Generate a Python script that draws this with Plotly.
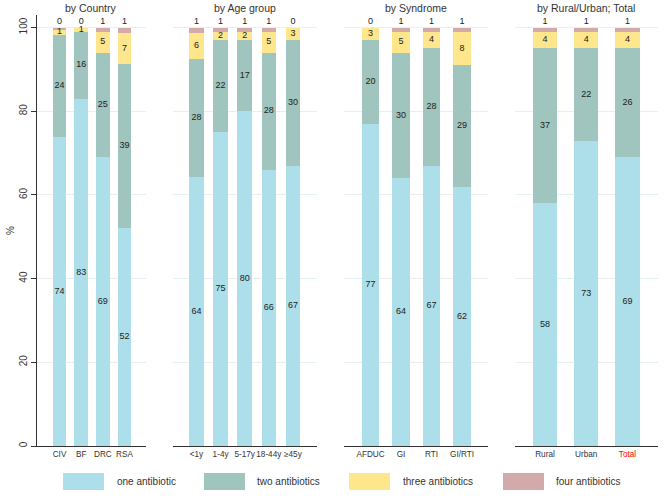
import plotly.graph_objects as go

# ---------------- data ----------------
series_names = ["one antibiotic", "two antibiotics", "three antibiotics", "four antibiotics"]
series_colors = ["#ADDFEA", "#A0C4BE", "#FDE68C", "#D2AAAA"]

country_cats = ["CIV", "BF", "DRC", "RSA"]
country_one = [73.8, 83, 69, 52.2]
country_two = [24.4, 16, 25, 39]
country_three = [1.4, 1, 5, 7.4]
country_four = [0.3, 0, 1, 1.4]

age_cats = ["<1y", "1-4y", "5-17y", "18-44y", "≥45y"]
age_one = [64.4, 75, 80, 66, 67]
age_two = [28, 22, 17, 28, 30]
age_three = [6.4, 2, 2, 5, 3]
age_four = [1.2, 1, 1, 1, 0]

syn_cats = ["AFDUC", "GI", "RTI", "GI/RTI"]
syn_one = [77, 64, 67, 62]
syn_two = [20, 30, 28, 29]
syn_three = [3, 5, 4, 8]
syn_four = [0, 1, 1, 1]

ru_cats = ["Rural", "Urban", "Total"]
ru_one = [58, 73, 69]
ru_two = [37, 22, 26]
ru_three = [4, 4, 4]
ru_four = [1, 1, 1]

y_ticks = [0, 20, 40, 60, 80, 100]

panels = [
    dict(title="by Country", cats=country_cats,
         vals=[country_one, country_two, country_three, country_four],
         domain=[0.0, 0.1755], rng=[-1.04, 3.99], width=0.62),
    dict(title="by Age group", cats=age_cats,
         vals=[age_one, age_two, age_three, age_four],
         domain=[0.219, 0.4509], rng=[-0.974, 5.0], width=0.6),
    dict(title="by Syndrome", cats=syn_cats,
         vals=[syn_one, syn_two, syn_three, syn_four],
         domain=[0.4944, 0.7262], rng=[-0.869, 3.852], width=0.57),
    dict(title="by Rural/Urban; Total", cats=ru_cats,
         vals=[ru_one, ru_two, ru_three, ru_four],
         domain=[0.7697, 1.0], rng=[-0.727, 2.74], width=0.59),
]

FONT = "Arial, Liberation Sans, sans-serif"
fig = go.Figure()

for i, p in enumerate(panels):
    xa = "x" if i == 0 else f"x{i+1}"
    ya = "y" if i == 0 else f"y{i+1}"
    cats = p["cats"]
    base = [0.0] * len(cats)
    for s, vals in enumerate(p["vals"]):
        fig.add_bar(x=cats, y=vals, marker_color=series_colors[s], marker_line_width=0,
                    width=p["width"], xaxis=xa, yaxis=ya, name=series_names[s],
                    showlegend=False, hoverinfo="skip")
        if s < 3:
            ypos = [b + v / 2 for b, v in zip(base, vals)]
        else:
            ypos = [b + v + 1.4 for b, v in zip(base, vals)]
        fig.add_scatter(x=cats, y=ypos, mode="text", text=[f"{v:.0f}" for v in vals],
                        textposition="middle center", cliponaxis=False,
                        textfont=dict(size=9, color="#222222", family=FONT),
                        xaxis=xa, yaxis=ya, showlegend=False, hoverinfo="skip")
        base = [b + v for b, v in zip(base, vals)]

    ticktext = [f'<span style="color:red">{c}</span>' if c == "Total" else c for c in cats]
    fig.update_layout(**{
        ("xaxis" if i == 0 else f"xaxis{i+1}"): dict(
            domain=p["domain"], range=p["rng"], anchor=ya, type="category",
            showline=True, linecolor="#333333", linewidth=1, ticks="",
            tickvals=cats, ticktext=ticktext, tickangle=0, automargin=False,
            tickfont=dict(size=8.2, color="#333333", family=FONT),
            showgrid=False, zeroline=False),
        ("yaxis" if i == 0 else f"yaxis{i+1}"): dict(
            domain=[0, 1], range=[0, 103], anchor=xa, automargin=False,
            tickvals=y_ticks, showgrid=True, gridcolor="#E6EFF1", gridwidth=1,
            zeroline=False,
            showline=(i == 0), linecolor="#333333", linewidth=1,
            ticks="outside" if i == 0 else "", ticklen=5, tickcolor="#333333",
            showticklabels=(i == 0), tickangle=-90,
            tickfont=dict(size=10, color="#333333", family=FONT),
            title=dict(text="%" if i == 0 else "", font=dict(size=10, color="#333333", family=FONT),
                       standoff=1)),
    })
    # panel title
    fig.add_annotation(x=sum(p["domain"]) / 2, y=1.0, xref="paper", yref="paper",
                       xanchor="center", yanchor="middle", yshift=7, text=p["title"],
                       showarrow=False, font=dict(size=10.5, color="#333333", family=FONT))

# custom legend with large swatches
sw_x0 = [0.0419, 0.2689, 0.5024, 0.7504]
txt_x = [0.1256, 0.351, 0.586, 0.8325]
for s in range(4):
    fig.add_shape(type="rect", xref="paper", yref="paper",
                  x0=sw_x0[s], x1=sw_x0[s] + 0.066, y0=-0.102, y1=-0.0626,
                  fillcolor=series_colors[s], line_width=0)
    fig.add_annotation(x=txt_x[s], y=-0.082, xref="paper", yref="paper",
                       xanchor="left", yanchor="middle", text=series_names[s],
                       showarrow=False, font=dict(size=10, color="#333333", family=FONT))

fig.update_layout(
    width=669, height=498, barmode="stack", bargap=0,
    margin=dict(l=37, r=11, t=15, b=52, autoexpand=False),
    plot_bgcolor="white", paper_bgcolor="white",
    font=dict(family=FONT),
)

# remove the page's default body margin so the figure fills the window exactly
fig.write_html("out.html", config={"displayModeBar": False},
               post_script="document.body.style.margin='0';")
